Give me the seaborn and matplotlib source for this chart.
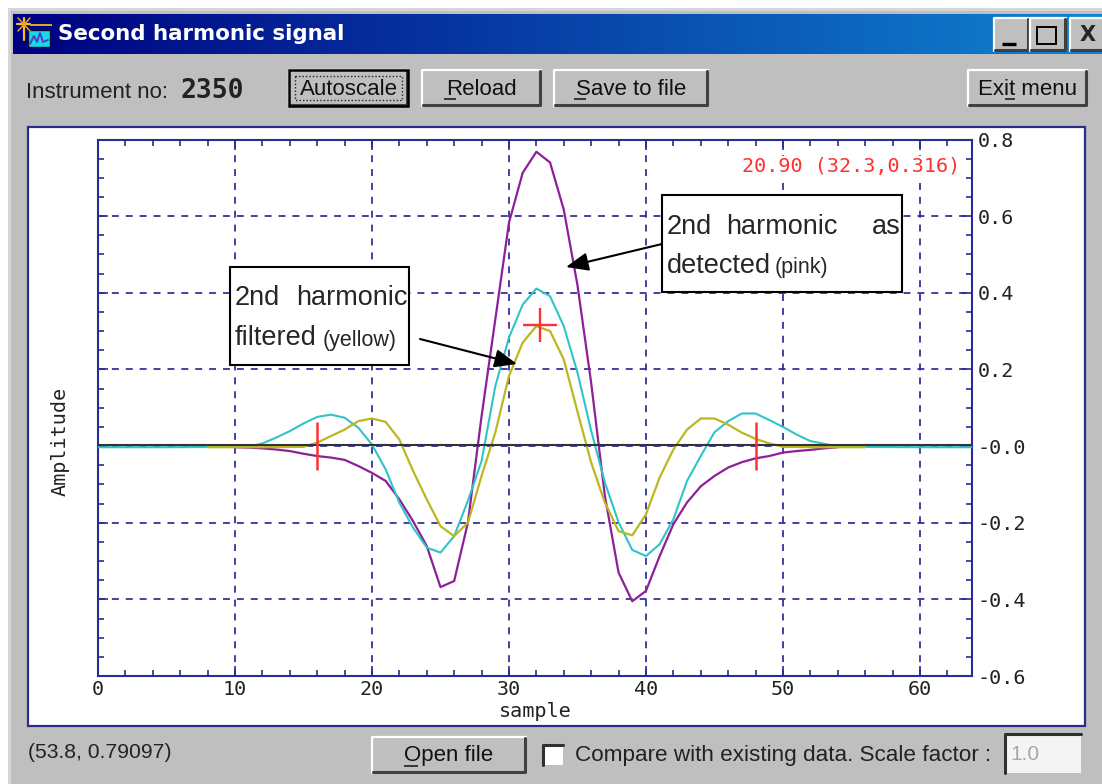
import numpy as np
import pandas as pd
import matplotlib
matplotlib.use("Agg")
import matplotlib.pyplot as plt
import seaborn as sns
from matplotlib.patches import Rectangle
from matplotlib.ticker import MultipleLocator

# values
purple_x = [10, 11, 12, 13, 14, 15, 16, 17, 18, 19, 20, 21, 22, 23, 24, 25, 26, 27, 28, 29, 30, 31, 32, 33, 34, 35, 36,
            37, 38, 39, 40, 41, 42, 43, 44, 45, 46, 47, 48, 49, 50, 51, 52, 53, 54]
purple_y = [-0.003, -0.004, -0.006, -0.009, -0.013, -0.020, -0.026, -0.030, -0.036, -0.052, -0.070, -0.091, -0.139,
            -0.196, -0.261, -0.368, -0.352, -0.200, 0.078, 0.330, 0.583, 0.713, 0.768, 0.740, 0.617, 0.420, 0.165,
            -0.130, -0.330, -0.405, -0.378, -0.287, -0.204, -0.147, -0.105, -0.078, -0.056, -0.042, -0.032, -0.026,
            -0.017, -0.013, -0.010, -0.006, -0.003]

cyan_x = [0, 5, 11, 12, 13, 14, 15, 16, 17, 18, 19, 20, 21, 22, 23, 24, 25, 26, 27, 28, 29, 30, 31, 32, 33, 34, 35, 36,
          37, 38, 39, 40, 41, 42, 43, 44, 45, 46, 47, 48, 49, 50, 51, 52, 53, 54, 60, 64]
cyan_y = [-0.003, -0.003, -0.002, 0.007, 0.022, 0.039, 0.059, 0.076, 0.082, 0.074, 0.048, 0.004, -0.061, -0.148,
          -0.213, -0.265, -0.278, -0.235, -0.143, -0.039, 0.156, 0.283, 0.369, 0.411, 0.391, 0.313, 0.192, 0.040,
          -0.095, -0.199, -0.271, -0.287, -0.256, -0.191, -0.091, -0.026, 0.036, 0.065, 0.085, 0.085, 0.068, 0.050,
          0.030, 0.013, 0.006, -0.002, -0.003, -0.003]

yellow_x = [8, 12, 15, 16, 17, 18, 19, 20, 21, 22, 23, 24, 25, 26, 27, 28, 29, 30, 31, 32, 33, 34, 35, 36, 37, 38, 39,
            40, 41, 42, 43, 44, 45, 46, 47, 48, 49, 50, 53, 56]
yellow_y = [-0.003, -0.003, -0.002, 0.009, 0.026, 0.043, 0.065, 0.072, 0.063, 0.017, -0.065, -0.139, -0.209, -0.235,
            -0.200, -0.078, 0.035, 0.183, 0.270, 0.313, 0.300, 0.226, 0.090, -0.043, -0.147, -0.222, -0.233, -0.178,
            -0.082, -0.009, 0.043, 0.072, 0.072, 0.056, 0.035, 0.019, 0.007, -0.002, -0.003, -0.003]

baseline_x = [0, 64]
baseline_y = [0.004, 0.004]
edge_x = [16, 48]
edge_y = [0.0, 0.0]
peak_x = [32.3]
peak_y = [0.316]

x_ticks = [0, 10, 20, 30, 40, 50, 60]
x_tick_labels = ["0", "10", "20", "30", "40", "50", "60"]
y_ticks = [-0.6, -0.4, -0.2, 0.0, 0.2, 0.4, 0.6, 0.8]
y_tick_labels = ["-0.6", "-0.4", "-0.2", "-0.0", "0.2", "0.4", "0.6", "0.8"]

W, H = 1102, 784
navy = "#2b2b96"
grey = "#bfbfbf"

sns.set_style("white")
plt.rcParams["font.family"] = ["Liberation Sans", "DejaVu Sans"]
mono = "DejaVu Sans Mono"

fig = plt.figure(figsize=(W / 100, H / 100), dpi=100, facecolor="white")

# window chrome, in pixel coordinates
ui = fig.add_axes([0, 0, 1, 1], zorder=0)
ui.set_xlim(0, W)
ui.set_ylim(H, 0)
ui.axis("off")


def rect(a, x0, y0, x1, y1, fc, ec="none", lw=0, z=1):
    a.add_patch(Rectangle((x0, y0), x1 - x0, y1 - y0, fc=fc, ec=ec, lw=lw, zorder=z))


def hline(a, x0, x1, y, c="black", lw=1.4, z=3):
    a.plot([x0, x1], [y, y], color=c, lw=lw, zorder=z, solid_capstyle="butt")


def button(x0, y0, x1, y1, label=None, under=None, size=16, black=False):
    rect(ui, x0, y0, x1, y1, grey)
    ui.plot([x0, x0, x1], [y1, y0, y0], color="white", lw=1.6, zorder=2)
    ui.plot([x0 + 1, x1 - 1, x1 - 1], [y1 - 1, y1 - 1, y0 + 1], color="#404040", lw=2.2, zorder=2)
    if black:
        rect(ui, x0, y0, x1, y1, "none", ec="black", lw=1.8, z=3)
    if label:
        ui.text((x0 + x1) / 2, (y0 + y1) / 2 + 1, label, ha="center", va="center", fontsize=size, color="#111111",
                zorder=4)
    if under:
        hline(ui, under[0], under[1], y1 - 7, c="#111111", lw=1.1, z=4)


rect(ui, 8, 8, W, H, "#d6d6d6")
rect(ui, 11, 11, W, H, grey)
gradient = np.linspace(0, 1, 256).reshape(1, -1)
title_cmap = matplotlib.colors.LinearSegmentedColormap.from_list("title", ["#000080", "#1084d0"])
ui.imshow(gradient, extent=(13, W, 54, 14), cmap=title_cmap, aspect="auto", zorder=1)
ui.set_xlim(0, W)
ui.set_ylim(H, 0)

# title bar icon
rect(ui, 28, 30, 50, 47, "#19d8e8", ec="#101040", lw=1, z=2)
ui.plot([30, 34, 37, 40, 43, 48], [44, 36, 42, 33, 42, 40], color="#5040c0", lw=1.4, zorder=3)
ui.plot([17, 30], [24, 24], color="#f0c020", lw=1.6, zorder=3)
ui.plot([24, 24], [18, 40], color="#f0c020", lw=1.6, zorder=3)
ui.plot([18, 30], [18, 31], color="#f0a020", lw=1.1, zorder=3)
ui.plot([30, 18], [18, 31], color="#f0a020", lw=1.1, zorder=3)
hline(ui, 30, 52, 25, c="#d8b020", lw=1.4)
ui.text(58, 33.5, "Second harmonic signal", color="white", fontsize=15.4, fontweight="bold",
        family="DejaVu Sans", va="center", zorder=3)

button(994, 18, 1029, 51)
button(1030, 18, 1066, 51)
button(1070, 18, 1104, 51)
hline(ui, 1002, 1016, 44, lw=2.4)
rect(ui, 1037, 27, 1056, 44, "none", ec="black", lw=1.4, z=3)
ui.text(1088, 35, "X", fontsize=15, fontweight="bold", ha="center", va="center", zorder=3, family="DejaVu Sans")

ui.text(26, 92, "Instrument no:", fontsize=16, va="center", color="#222222", zorder=3)
ui.text(180, 91, "2350", fontsize=19, va="center", fontweight="bold", family=mono, color="#222222", zorder=3)

button(289, 70, 408, 106, "Autoscale", black=True)
rect(ui, 295, 76, 402, 100, "none", ec="#222222", lw=1, z=3)
ui.patches[-1].set_linestyle((0, (1, 1.5)))
button(422, 70, 541, 106, "Reload", under=(444, 456))
button(554, 70, 708, 106, "Save to file", under=(574, 586))
button(968, 70, 1087, 106, "Exit menu", under=(1005, 1015))

rect(ui, 28, 127, 1085, 726, "white", ec="#2b2b8c", lw=1.6, z=1)

ui.text(28, 752, "(53.8, 0.79097)", fontsize=15.2, va="center", color="#222222", zorder=3)
button(372, 737, 526, 773, "Open file", under=(404, 418))
rect(ui, 543, 745, 563, 765, "white", z=2)
ui.plot([543, 543, 563], [765, 745, 745], color="#303030", lw=2.2, zorder=3)
ui.text(575, 755, "Compare with existing data. Scale factor :", fontsize=16.2, va="center", color="#222222",
        zorder=3)
rect(ui, 1005, 734, 1081, 773, "#f4f4f4", z=2)
ui.plot([1005, 1005, 1081], [773, 734, 734], color="#303030", lw=2.2, zorder=3)
ui.text(1010, 754, "1.0", fontsize=15, va="center", color="#a8a8a8", zorder=3)

# the plot itself
left, right, top, bottom = 98, 972, 139.5, 676
ax = fig.add_axes([left / W, 1 - bottom / H, (right - left) / W, (bottom - top) / H], zorder=2)
ax.patch.set_alpha(0)

sns.lineplot(data=pd.DataFrame({"x": purple_x, "y": purple_y}), x="x", y="y", ax=ax, color="#8e1f9a", lw=1.6, zorder=3,
             errorbar=None, sort=False)
sns.lineplot(data=pd.DataFrame({"x": cyan_x, "y": cyan_y}), x="x", y="y", ax=ax, color="#2fc4c8", lw=1.5, zorder=4,
             errorbar=None, sort=False)
sns.lineplot(data=pd.DataFrame({"x": yellow_x, "y": yellow_y}), x="x", y="y", ax=ax, color="#bdb71f", lw=1.6, zorder=5,
             errorbar=None, sort=False)
sns.lineplot(data=pd.DataFrame({"x": baseline_x, "y": baseline_y}), x="x", y="y", ax=ax, color="#333333", lw=1.5,
             zorder=6, errorbar=None, sort=False)
ax.plot(edge_x, edge_y, ls="none", marker="|", ms=34, mew=1.8, color="#ff3030", zorder=7)
ax.plot(peak_x, peak_y, ls="none", marker="+", ms=24.5, mew=1.7, color="#ff3030", zorder=7)

ax.set_xlim(0, 63.8)
ax.set_ylim(-0.6, 0.8)
ax.set_xticks(x_ticks)
ax.set_xticklabels(x_tick_labels, family=mono, fontsize=14.5, color="#222222")
ax.set_yticks(y_ticks)
ax.set_yticklabels(y_tick_labels, family=mono, fontsize=14.5, color="#222222")
ax.xaxis.set_minor_locator(MultipleLocator(2))
ax.yaxis.set_minor_locator(MultipleLocator(0.05))
ax.tick_params(axis="both", which="major", direction="in", length=7, width=1.2, color=navy, top=True, bottom=True,
               left=True, right=True, labelleft=False, labelright=True)
ax.tick_params(axis="both", which="minor", direction="in", length=4, width=1.2, color=navy, top=True, bottom=True,
               left=True, right=True)
ax.tick_params(axis="x", which="major", pad=3)
ax.tick_params(axis="y", which="major", pad=4)
ax.grid(True, which="major", color=navy, lw=1.25, ls=(0, (4, 4)), zorder=1)
for s in ax.spines.values():
    s.set_color(navy)
    s.set_linewidth(1.5)
    s.set_visible(True)
ax.set_xlabel("sample", family=mono, fontsize=14.5, color="#222222", labelpad=2)
ax.set_ylabel("Amplitude", family=mono, fontsize=14.5, color="#222222")
ax.yaxis.set_label_coords(-0.033, 0.438)

ax.text(0.987, 0.949, "20.90 (32.3,0.316)", transform=ax.transAxes, ha="right", va="center", family=mono,
        fontsize=14.5, color="#ff3030", zorder=8, bbox=dict(fc="white", ec="none", pad=1))

# callouts on top of the plot
over = fig.add_axes([0, 0, 1, 1], zorder=3)
over.set_xlim(0, W)
over.set_ylim(H, 0)
over.axis("off")

rect(over, 662, 195, 902, 292, "white", ec="black", lw=1.5, z=2)
rect(over, 230, 267, 409, 365, "white", ec="black", lw=1.5, z=2)
box_font = 19.5
over.text(667, 227, "2nd", fontsize=box_font, va="center", zorder=3)
over.text(782, 227, "harmonic", fontsize=box_font, va="center", ha="center", zorder=3)
over.text(901, 227, "as", fontsize=box_font, va="center", ha="right", zorder=3)
over.text(667, 266, "detected", fontsize=box_font, va="center", zorder=3)
over.text(775, 268, "(pink)", fontsize=15.5, va="center", zorder=3)
over.text(235, 298, "2nd", fontsize=box_font, va="center", zorder=3)
over.text(408, 298, "harmonic", fontsize=box_font, va="center", ha="right", zorder=3)
over.text(235, 338, "filtered", fontsize=box_font, va="center", zorder=3)
over.text(323, 340, "(yellow)", fontsize=15.5, va="center", zorder=3)
for start, end in [((662, 244), (566, 267)), ((420, 339), (517, 364))]:
    over.annotate("", xy=end, xytext=start, zorder=4,
                  arrowprops=dict(arrowstyle="-|>,head_length=0.85,head_width=0.35", color="black", lw=1.5,
                                  mutation_scale=16, shrinkA=0, shrinkB=0))

fig.savefig("out.png", dpi=100)
